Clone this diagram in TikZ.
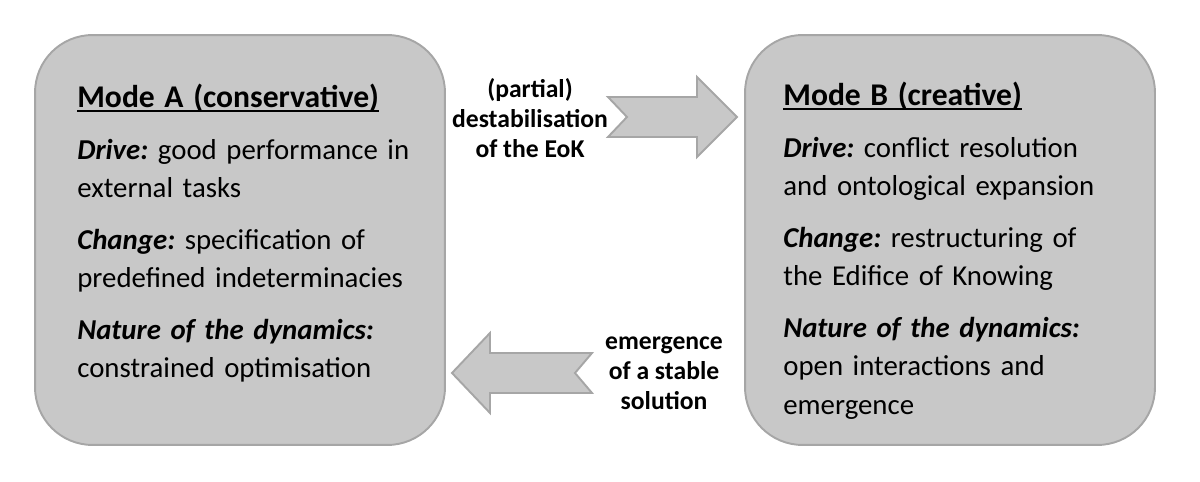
\documentclass[tikz,border=0pt]{standalone}
\usepackage{fontspec}
\setmainfont{Carlito}
\usetikzlibrary{calc, positioning}

\definecolor{boxfill}{HTML}{C8C8C8}
\definecolor{boxline}{HTML}{A6A6A6}

% underlined heading, line just under the baseline
\newcommand{\modetitle}[1]{{\bfseries\fontsize{18}{22}\selectfont
  \setbox0\hbox{#1}\rlap{\rule[-2.2pt]{\wd0}{0.9pt}}\box0}}

\begin{document}
\frenchspacing
\begin{tikzpicture}[
  x=0.02cm, y=-0.02cm,
  modebox/.style={draw=boxline, line width=1.1pt, fill=boxfill, rounded corners=1.15cm,
                  minimum width=8.2cm, minimum height=8.2cm, inner sep=0pt},
  modetext/.style={anchor=base west, inner sep=0pt, text width=7.6cm, align=left,
                   font=\fontsize{16.4}{22.1}\selectfont},
  blockarrow/.style={draw=boxline, line width=1.1pt, fill=boxfill, line join=miter},
  arrowlabel/.style={align=center, inner sep=0pt,
                     font=\bfseries\fontsize{14.6}{17}\selectfont}
]
\useasboundingbox (0,0) rectangle (1200,482);

% the two modes
\node[modebox] (modeA) at (240,240) {};
\node[modebox] (modeB) at (950,240) {};

\node[modetext] (textA) at (77,108) {%
  \modetitle{Mode A (conservative)}\\[7pt]
  \textbf{\textit{Drive:}} good performance in\\
  external tasks\\[7pt]
  \textbf{\textit{Change:}} specification of\\
  predefined indeterminacies\\[7pt]
  \textbf{\textit{Nature of the dynamics:}}\\
  constrained optimisation};

\node[modetext] (textB) at (783,106) {%
  \modetitle{Mode B (creative)}\\[7pt]
  \textbf{\textit{Drive:}} conflict resolution\\
  and ontological expansion\\[7pt]
  \textbf{\textit{Change:}} restructuring of\\
  the Edifice of Knowing\\[7pt]
  \textbf{\textit{Nature of the dynamics:}}\\
  open interactions and\\
  emergence};

% transitions between the modes
\coordinate (fwdtail) at (608,117);
\coordinate (fwdtip)  at (737,117);
\draw[blockarrow] ($(fwdtail)+(19,0)$) -- ++(-19,-20) -- ($(fwdtip)+(-40,-20)$)
  -- ++(0,-20) -- (fwdtip) -- ++(-40,40) -- ++(0,-20) -- ($(fwdtail)+(0,20)$) -- cycle;
\node[arrowlabel] (destab) at (530,118) {(partial)\\destabilisation\\of the EoK};

\coordinate (backtail) at (592,373);
\coordinate (backtip)  at (452,373);
\draw[blockarrow] ($(backtail)+(-17,0)$) -- ++(17,-20) -- ($(backtip)+(38,-20)$)
  -- ++(0,-20) -- (backtip) -- ++(38,40) -- ++(0,-20) -- ($(backtail)+(0,20)$) -- cycle;
\node[arrowlabel] (stable) at (664,373) {emergence\\of a stable\\solution};

\end{tikzpicture}
\end{document}
